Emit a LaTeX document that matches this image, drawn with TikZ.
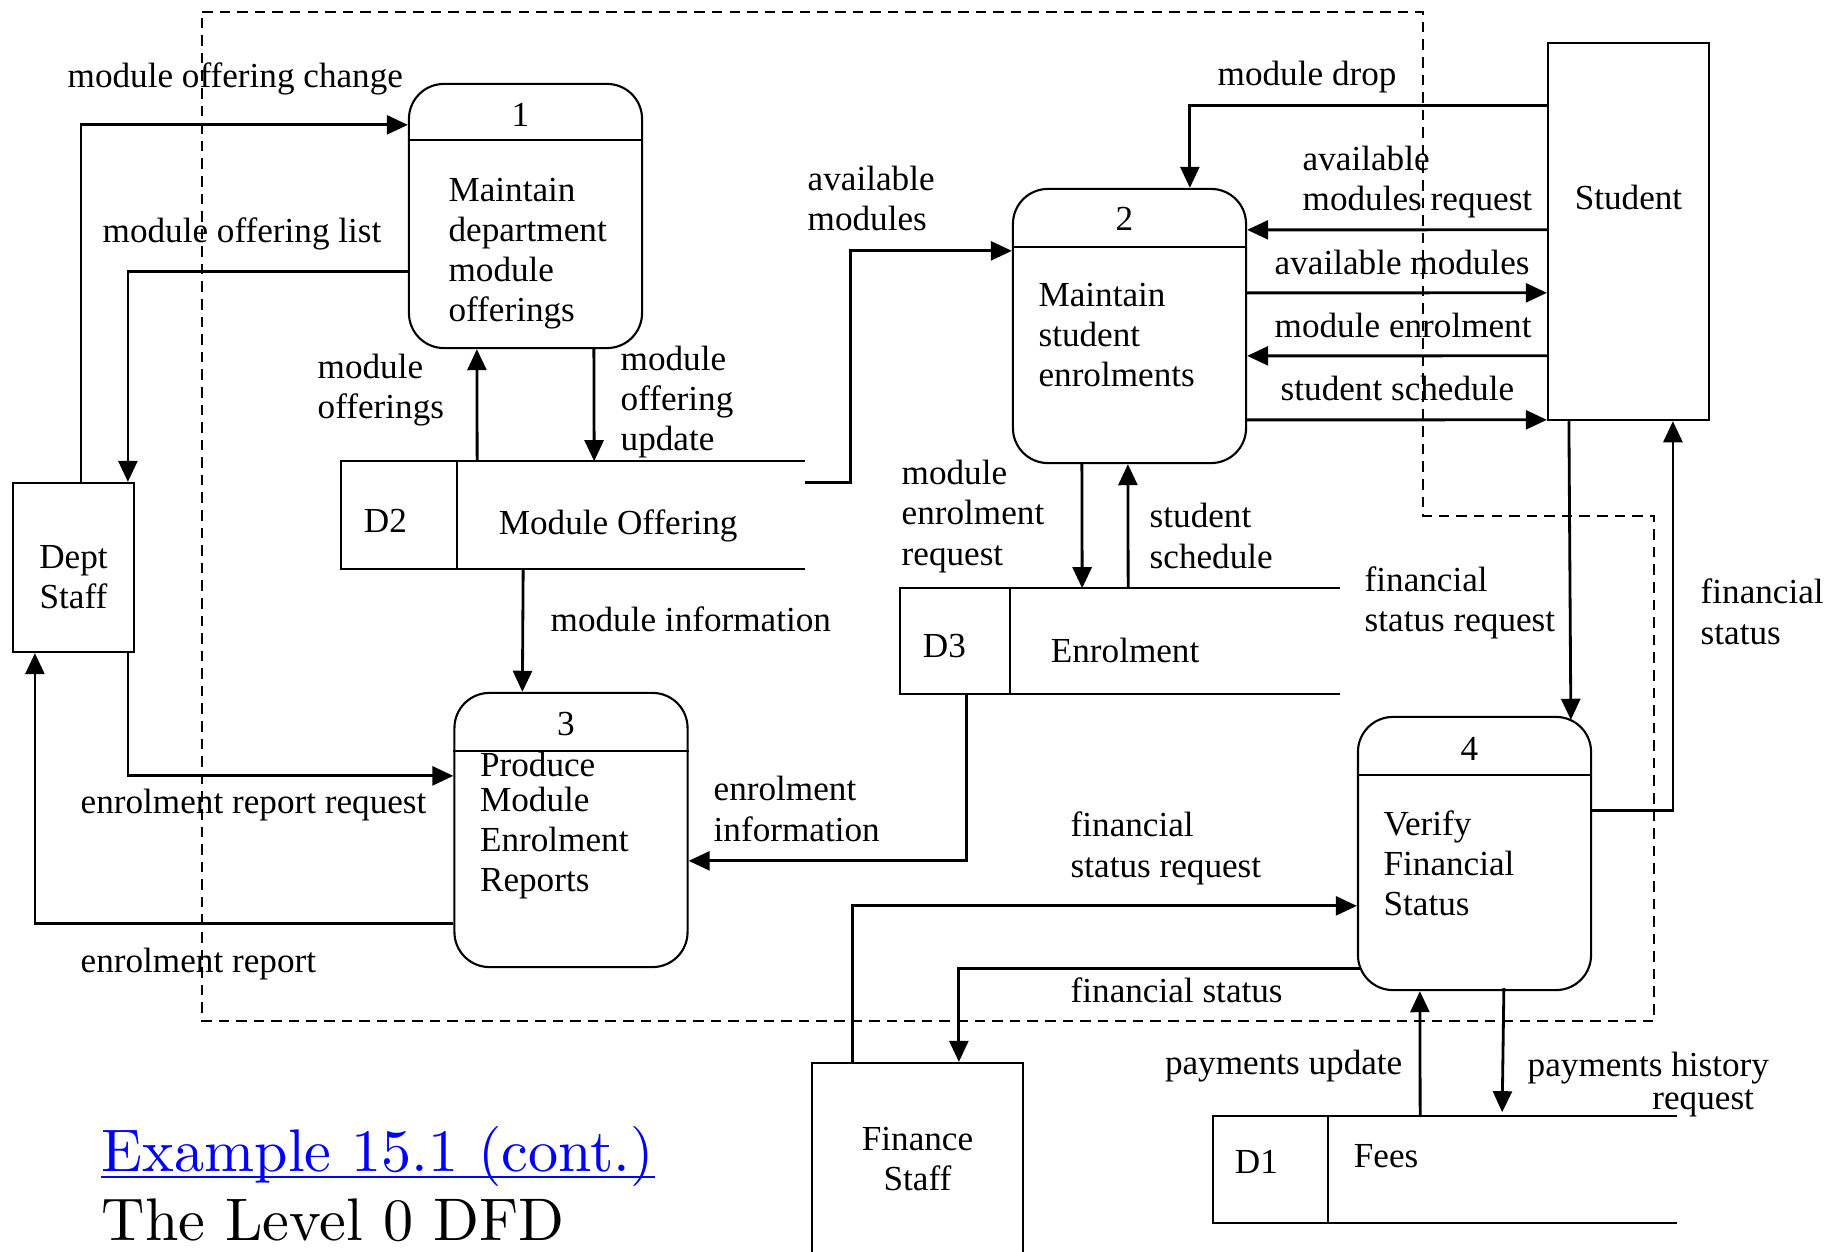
\documentclass[tikz,border=0pt]{standalone}
\usepackage{fontspec}
\newfontfamily\dfdfont{Liberation Serif}
\newfontfamily\headfont{lmroman10-regular}[Extension=.otf]
\usetikzlibrary{arrows.meta,calc}
\begin{document}
\begin{tikzpicture}[x=0.01cm,y=-0.01cm,
    flow/.style={-{Triangle[length=6pt,width=5.4pt]},line width=0.8pt},
    lbl/.style={anchor=base west,align=left,inner sep=0pt,font=\dfdfont\fontsize{10}{11.4}\selectfont},
    heading/.style={anchor=base west,inner sep=0pt,font=\headfont\fontsize{17.1}{20}\selectfont}]
    \useasboundingbox (0,0) rectangle (1836,1252);
    \clip (0,0) rectangle (1836,1252);

    \draw[dash pattern=on 3pt off 2pt,line width=0.6pt] (202,12) -- (1423,12) -- (1423,516) -- (1654,516) -- (1654,1021) -- (202,1021) -- cycle;

    \begin{scope}[every node/.style={draw,rectangle,rounded corners=0.35cm,line width=0.6pt,minimum width=2.33cm,inner sep=0pt}]
        \node[minimum height=2.64cm] (p1) at (525.5,216) {};
        \node[minimum height=2.74cm] (p2) at (1129.5,326) {};
        \node[minimum height=2.74cm] (p3) at (571,830) {};
        \node[minimum height=2.73cm] (p4) at (1474.5,853.5) {};
    \end{scope}
    \foreach \p/\d in {p1/57,p2/59,p3/59,p4/59}
        \draw[line width=0.6pt] ($(\p.north west)+(0,\d)$) -- ($(\p.north east)+(0,\d)$);
    \foreach \p/\n/\y in {p1/1/44,p2/2/43,p3/3/44,p4/4/45}
        \node[lbl,anchor=base] (n\p) at ($(\p.north)+(-5,\y)$) {\n};
    \node[lbl] (t1) at ($(p1.north west)+(40,239)$) {Maintain\\department\\module\\offerings};
    \node[lbl] (t2) at ($(p2.north west)+(26,199)$) {Maintain\\student\\enrolments};
    \node[lbl] (t3) at ($(p3.north west)+(26,200)$) {Produce\\[-0.05cm]Module\\Enrolment\\Reports};
    \node[lbl] (t4) at ($(p4.north west)+(26,200)$) {Verify\\Financial\\Status};

    \begin{scope}[every node/.style={draw,rectangle,line width=0.6pt,inner sep=0pt}]
        \node[minimum width=1.21cm,minimum height=1.69cm] (dept) at (73.5,567.5) {};
        \node[minimum width=1.61cm,minimum height=3.77cm] (student) at (1628.5,231.5) {};
        \node[minimum width=2.11cm,minimum height=2.0cm] (finance) at (917.5,1163) {};
    \end{scope}
    \node[lbl,anchor=base,align=center] (tdept) at ($(dept.north)+(0,127)$) {Dept\\Staff};
    \node[lbl,anchor=base] (tstudent) at ($(student.north)+(0,168)$) {Student};
    \node[lbl,anchor=base,align=center] (tfinance) at ($(finance.north)+(0,129)$) {Finance\\Staff};

    \begin{scope}[every node/.style={rectangle,inner sep=0pt}]
        \node[minimum width=4.62cm,minimum height=1.06cm] (d2) at (573,515) {};
        \node[minimum width=4.38cm,minimum height=1.04cm] (d3) at (1120,641) {};
        \node[minimum width=4.62cm,minimum height=1.05cm] (d1) at (1445,1169.5) {};
    \end{scope}
    \foreach \s/\w in {d2/116,d3/110,d1/115} {
        \draw[line width=0.6pt] (\s.north east) -- (\s.north west) -- (\s.south west) -- (\s.south east);
        \draw[line width=0.6pt] ($(\s.north west)+(\w,0)$) -- ($(\s.south west)+(\w,0)$);
    }
    \node[lbl] (td2) at ($(d2.north west)+(22,71)$) {D2};
    \node[lbl] (nd2) at ($(d2.north west)+(157,73)$) {Module Offering};
    \node[lbl] (td3) at ($(d3.north west)+(22,69)$) {D3};
    \node[lbl] (nd3) at ($(d3.north west)+(150,74)$) {Enrolment};
    \node[lbl] (td1) at ($(d1.north west)+(21,57)$) {D1};
    \node[lbl] (nd1) at ($(d1.north west)+(140,51)$) {Fees};

    \draw[flow] ($(dept.north west)+(69,0)$) |- ($(p1.north west)+(0,42)$);
    \draw[flow] ($(p1.north west)+(0,189)$) -| ($(dept.north west)+(116,0)$);
    \draw[flow] ($(d2.north west)+(136,0)$) -- ($(p1.south west)+(69,0)$);
    \draw[flow] ($(p1.south west)+(186,0)$) -- ($(d2.north west)+(253,0)$);
    \draw[flow] ($(d2.north east)+(0,21)$) -- ++(46,0) |- ($(p2.north west)+(0,63)$);
    \draw[flow] ($(d2.south west)+(182,0)$) -- ($(p3.north west)+(69,0)$);
    \draw[flow] ($(dept.south west)+(116,0)$) |- ($(p3.north west)+(0,84)$);
    \draw[flow] ($(p3.north west)+(0,232)$) -| ($(dept.south west)+(23,0)$);
    \draw[flow] ($(d3.south west)+(66,0)$) |- ($(p3.north east)+(0,169)$);
    \draw[flow] ($(student.north west)+(0,64)$) -| ($(p2.north west)+(178,0)$);
    \draw[flow] ($(student.north west)+(0,188)$) -- ($(p2.north east)+(0,42)$);
    \draw[flow] ($(p2.north east)+(0,105)$) -- ($(student.north west)+(0,251)$);
    \draw[flow] ($(student.north west)+(0,314)$) -- ($(p2.north east)+(0,168)$);
    \draw[flow] ($(p2.north east)+(0,232)$) -- ($(student.north west)+(0,378)$);
    \draw[flow] ($(p2.south west)+(70,0)$) -- ($(d3.north west)+(182,0)$);
    \draw[flow] ($(d3.north west)+(228,0)$) -- ($(p2.south west)+(116,0)$);
    \draw[flow] ($(student.south west)+(22,0)$) -- ($(p4.north west)+(214,4)$);
    \draw[flow] ($(p4.north east)+(0,95)$) -| ($(student.south west)+(126,0)$);
    \draw[flow] ($(finance.north west)+(42,0)$) |- ($(p4.north west)+(0,190)$);
    \draw[flow] ($(p4.north west)+(3,253)$) -| ($(finance.north west)+(148,0)$);
    \draw[flow] ($(d1.north west)+(207,0)$) -- ($(p4.south west)+(63,0)$);
    \draw[flow] ($(p4.south west)+(147,-3)$) -- ($(d1.north west)+(289,-4)$);

    \node[lbl] (lchange) at (67,88) {module offering change};
    \node[lbl] (llist) at (102,243) {module offering list};
    \node[lbl] (loffer) at (317,419) {module\\offerings};
    \node[lbl] (lupdate) at (620,451) {module\\offering\\update};
    \node[lbl] (lavail) at (807,231) {available\\modules};
    \node[lbl] (linfo) at (550,632) {module information};
    \node[lbl] (lrepreq) at (80,813) {enrolment report request};
    \node[lbl] (lrep) at (80,972) {enrolment report};
    \node[lbl] (lenrinfo) at (713,841) {enrolment\\information};
    \node[lbl] (ldrop) at (1217,86) {module drop};
    \node[lbl] (lavreq) at (1302,211) {available\\modules request};
    \node[lbl] (lavmod) at (1274,275) {available modules};
    \node[lbl] (lenrol) at (1274,338) {module enrolment};
    \node[lbl] (lsched) at (1280,401) {student schedule};
    \node[lbl] (lenrreq) at (901,565) {module\\enrolment\\request};
    \node[lbl] (lsched2) at (1149,568) {student\\schedule};
    \node[lbl] (lfinreq) at (1364,632) {financial\\status request};
    \node[lbl] (lfinst) at (1700,644) {financial\\status};
    \node[lbl] (lfinreq2) at (1070,877) {financial\\status request};
    \node[lbl] (lfinst2) at (1070,1002) {financial status};
    \node[lbl,anchor=base east] (lpayup) at (1403,1074) {payments update};
    \node[lbl,align=right] (lpayhist) at (1527,1109) {payments history\\[-0.08cm]request\hspace*{0.15cm}};

    \node[heading,text=blue] (example) at (101,1171) {Example 15.1 (cont.)};
    \draw[blue,line width=0.7pt] ($(example.base west)+(0,6)$) -- ($(example.base east)+(0,6)$);
    \node[heading] (level) at (101,1240) {The Level 0 DFD};
\end{tikzpicture}
\end{document}
